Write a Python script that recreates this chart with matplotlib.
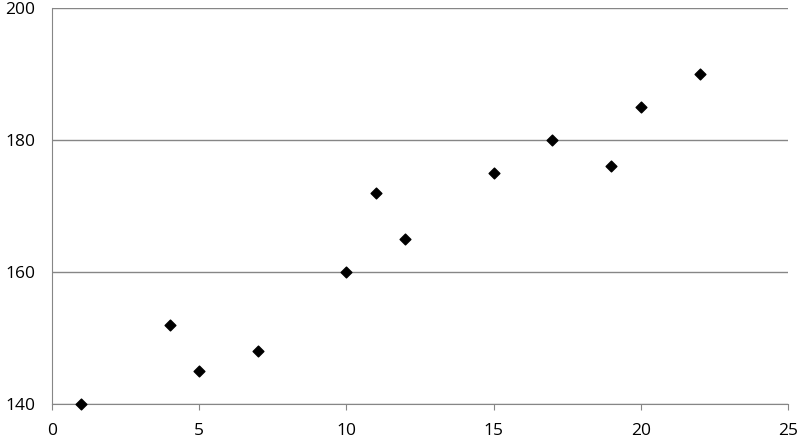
import matplotlib.pyplot as plt

x = [1, 4, 5, 7, 10, 11, 12, 15, 17, 19, 20, 22]
y = [140, 152, 145, 148, 160, 172, 165, 175, 180, 176, 185, 190]

gray = '#868686'

fig = plt.figure(figsize=(8, 4.43), dpi=100)
ax = fig.add_axes([0.065, 0.088, 0.92, 0.894])

ax.scatter(x, y, marker='D', s=30, color='black', zorder=3, clip_on=False)

ax.set_xlim(0, 25)
ax.set_ylim(140, 200)
ax.set_xticks([0, 5, 10, 15, 20, 25])
ax.set_yticks([140, 160, 180, 200])

ax.grid(axis='y', color=gray, linewidth=1)
ax.set_axisbelow(True)
for side in ['top', 'right']:
    ax.spines[side].set_visible(False)
for side in ['left', 'bottom']:
    ax.spines[side].set_color(gray)
ax.tick_params(axis='x', direction='out', length=4, color=gray, labelsize=12.5, pad=10)
ax.tick_params(axis='y', length=0, labelsize=12.5, pad=12)
for lab in ax.get_xticklabels() + ax.get_yticklabels():
    lab.set_fontfamily('Open Sans')

plt.savefig('out.png')
